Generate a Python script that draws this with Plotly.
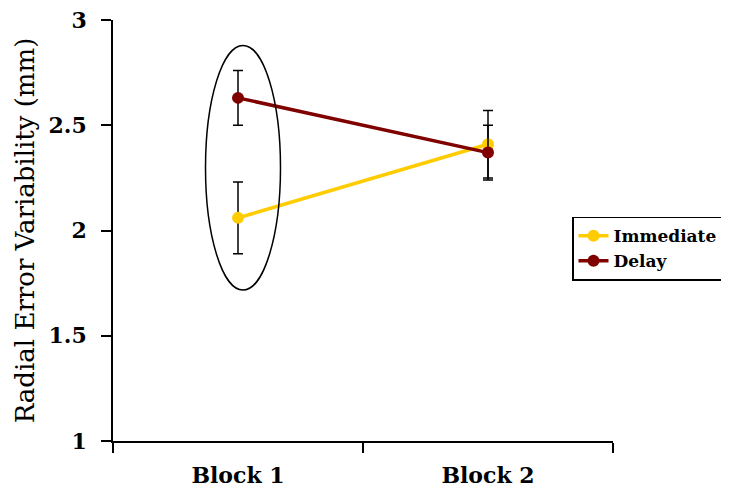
import plotly.graph_objects as go

categories = ["Block 1", "Block 2"]
immediate = [2.06, 2.41]
immediate_err = [0.17, 0.16]
delay = [2.63, 2.37]
delay_err = [0.13, 0.13]
y_ticks = [1, 1.5, 2, 2.5, 3]
y_tick_labels = ["1", "1.5", "2", "2.5", "3"]

font_family = "DejaVu Serif, Liberation Serif, serif"

fig = go.Figure()
fig.add_trace(go.Scatter(
    x=categories, y=immediate, name="Immediate", mode="lines+markers",
    line=dict(color="#FFCC00", width=3.5),
    marker=dict(color="#FFCC00", size=12, symbol="circle"),
    error_y=dict(type="data", array=immediate_err, color="black", thickness=1.5, width=5),
))
fig.add_trace(go.Scatter(
    x=categories, y=delay, name="Delay", mode="lines+markers",
    line=dict(color="#800000", width=3.5),
    marker=dict(color="#800000", size=12, symbol="circle"),
    error_y=dict(type="data", array=delay_err, color="black", thickness=1.5, width=5),
))

fig.add_shape(type="circle", xref="x", yref="y",
              x0=-0.13, x1=0.17, y0=1.717, y1=2.879,
              line=dict(color="black", width=1.5), fillcolor="rgba(0,0,0,0)")

fig.update_layout(
    width=721, height=480,
    margin=dict(l=105, r=116, t=12, b=47, autoexpand=False),
    plot_bgcolor="white", paper_bgcolor="white",
    font=dict(family=font_family, color="black"),
    showlegend=True,
    legend=dict(
        x=0.918, y=0.533, xanchor="left", yanchor="top",
        bordercolor="black", borderwidth=1.5, bgcolor="white",
        font=dict(family=font_family, size=17, weight="bold", color="black"),
        tracegroupgap=0, itemwidth=30,
    ),
)
fig.update_xaxes(
    type="category", range=[-0.5, 1.5], tickson="boundaries",
    showline=True, linecolor="black", linewidth=1.5,
    ticks="outside", ticklen=10, tickcolor="black", tickwidth=1.5,
    showgrid=False, zeroline=False,
    tickfont=dict(family=font_family, size=22, weight="bold"),
    ticklabelstandoff=14, ticklabeloverflow="allow",
)
fig.update_yaxes(
    range=[1, 3], tickvals=y_ticks, ticktext=y_tick_labels,
    showline=True, linecolor="black", linewidth=1.5,
    ticks="outside", ticklen=10, tickcolor="black", tickwidth=1.5,
    showgrid=False, zeroline=False,
    tickfont=dict(family=font_family, size=22, weight="bold"),
    ticklabelstandoff=10, ticklabeloverflow="allow",
    title=dict(text="Radial Error Variability (mm)",
               font=dict(family=font_family, size=26), standoff=6),
)

fig.write_html("out.html")
